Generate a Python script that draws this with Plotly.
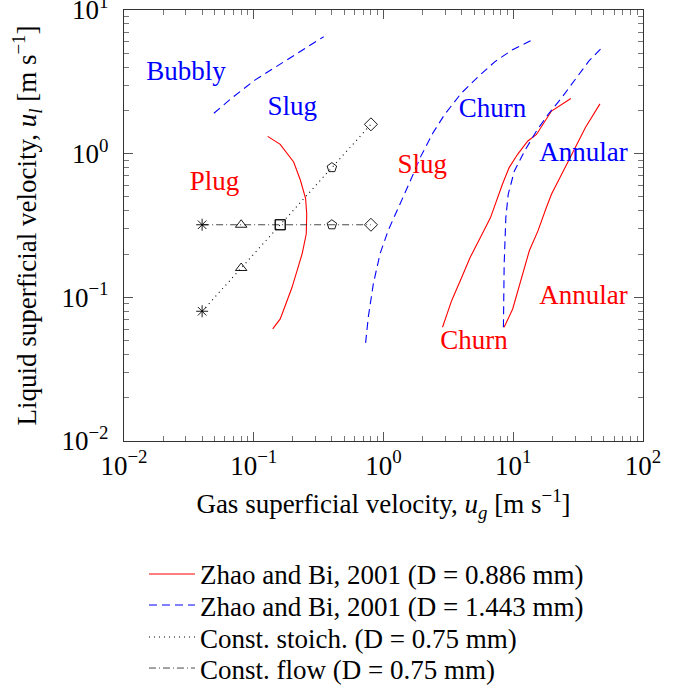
import plotly.graph_objects as go

# ---- data ----
red1_x = [0.128, 0.160, 0.203, 0.229, 0.251, 0.256, 0.254, 0.236, 0.216, 0.197, 0.175, 0.160, 0.140]
red1_y = [1.32, 1.16, 0.875, 0.653, 0.486, 0.382, 0.277, 0.201, 0.154, 0.117, 0.0877, 0.0708, 0.0603]

red2_x = [27.8, 19.7, 15.1, 12.9, 10.8, 9.3, 8.25, 7.77, 6.68, 5.58, 4.66, 4.01, 3.35, 2.85]
red2_y = [2.42, 1.98, 1.36, 1.22, 0.99, 0.80, 0.612, 0.522, 0.359, 0.261, 0.19, 0.138, 0.0948, 0.0619]

red3_x = [46.6, 36.0, 28.3, 23.6, 19.7, 18.0, 15.5, 13.3, 12.2, 11.1, 9.9, 8.5]
red3_y = [2.22, 1.52, 0.99, 0.718, 0.522, 0.422, 0.290, 0.211, 0.162, 0.117, 0.083, 0.0619]

blue1_x = [0.0493, 0.0673, 0.102, 0.156, 0.223, 0.346]
blue1_y = [1.91, 2.43, 3.25, 4.14, 5.13, 6.52]

blue2_x = [0.728, 0.764, 0.836, 0.942, 1.09, 1.35, 1.62, 1.93, 2.39, 2.94, 3.97, 5.36, 7.23, 9.77, 13.6]
blue2_y = [0.0482, 0.0731, 0.125, 0.202, 0.294, 0.45, 0.655, 0.95, 1.38, 1.86, 2.63, 3.43, 4.37, 5.26, 6.11]

blue3_x = [8.40, 8.51, 8.77, 9.15, 10.2, 12.2, 15.1, 18.6, 23.6, 30.0, 38.2, 49.0]
blue3_y = [0.0619, 0.170, 0.360, 0.522, 0.758, 1.04, 1.44, 1.88, 2.45, 3.28, 4.40, 5.55]

stoich_x = [0.04, 0.08, 0.16, 0.4, 0.8]
stoich_y = [0.08, 0.16, 0.32, 0.8, 1.6]

flow_x = [0.04, 0.08, 0.16, 0.4, 0.8]
flow_y = [0.32, 0.32, 0.32, 0.32, 0.32]

point_symbols = ["asterisk-open", "triangle-up-open", "square-open", "pentagon-open", "diamond-open"]

blue_labels = ["Bubbly", "Slug", "Churn", "Annular"]
blue_label_x = [0.030, 0.198, 6.93, 34.8]
blue_label_y = [3.62, 2.07, 2.01, 0.99]

red_labels = ["Plug", "Slug", "Churn", "Annular"]
red_label_x = [0.0499, 1.99, 4.99, 34.8]
red_label_y = [0.621, 0.819, 0.049, 0.1007]

tick_vals_x = [0.01, 0.1, 1, 10, 100]
tick_text_x = ["10<sup>−2</sup>", "10<sup>−1</sup>", "10<sup>0</sup>", "10<sup>1</sup>", "10<sup>2</sup>"]
tick_vals_y = [0.01, 0.1, 1, 10]
tick_text_y = ["10<sup>−2</sup>", "10<sup>−1</sup>", "10<sup>0</sup>", "10<sup>1</sup>"]

legend_names = [
    "Zhao and Bi, 2001 (D = 0.886 mm)",
    "Zhao and Bi, 2001 (D = 1.443 mm)",
    "Const. stoich. (D = 0.75 mm)",
    "Const. flow (D = 0.75 mm)",
]

RED = "#ff0000"
BLUE = "#0000ff"
FONT = "Liberation Serif"
FS = 27

fig = go.Figure()

for i, (xs, ys) in enumerate([(red1_x, red1_y), (red2_x, red2_y), (red3_x, red3_y)]):
    fig.add_trace(go.Scatter(x=xs, y=ys, mode="lines", line=dict(color=RED, width=1.1),
                             name=legend_names[0], legendgroup="red", showlegend=(i == 0),
                             legend="legend"))

for i, (xs, ys) in enumerate([(blue1_x, blue1_y), (blue2_x, blue2_y), (blue3_x, blue3_y)]):
    fig.add_trace(go.Scatter(x=xs, y=ys, mode="lines", line=dict(color=BLUE, width=1.1, dash="8px,5px"),
                             name=legend_names[1], legendgroup="blue", showlegend=(i == 0),
                             legend="legend2"))

fig.add_trace(go.Scatter(x=stoich_x, y=stoich_y, mode="lines",
                         line=dict(color="black", width=1.1, dash="1px,4px"), name=legend_names[2],
                         legend="legend3"))
fig.add_trace(go.Scatter(x=flow_x, y=flow_y, mode="lines",
                         line=dict(color="#333333", width=0.9, dash="7px,3px,1px,3px"), name=legend_names[3],
                         legend="legend4"))

for xs, ys in [(stoich_x, stoich_y), (flow_x, flow_y)]:
    fig.add_trace(go.Scatter(x=xs, y=ys, mode="markers", showlegend=False,
                             marker=dict(symbol=point_symbols, size=10, color="black",
                                         line=dict(color="black", width=0.9))))

fig.add_trace(go.Scatter(x=blue_label_x, y=blue_label_y, mode="text", text=blue_labels,
                         textfont=dict(family=FONT, size=FS, color=BLUE), showlegend=False))
fig.add_trace(go.Scatter(x=red_label_x, y=red_label_y, mode="text", text=red_labels,
                         textfont=dict(family=FONT, size=FS, color=RED), showlegend=False))

axis_common = dict(
    type="log", showgrid=False, zeroline=False, automargin=False,
    showline=True, linecolor="#333333", linewidth=1.2, mirror="ticks",
    ticks="inside", ticklen=9, tickcolor="#555555", tickwidth=1,
    minor=dict(ticks="inside", ticklen=5, tickcolor="#777777", dtick="D1", showgrid=False),
    tickfont=dict(family=FONT, size=FS, color="black"),
    tickmode="array", ticklabeloverflow="allow",
)

fig.update_xaxes(**axis_common, range=[-2, 2], tickvals=tick_vals_x, ticktext=tick_text_x,
                 ticklabelstandoff=0,
                 title=dict(text="Gas superficial velocity, <i>u<sub>g</sub></i> [m s<sup>−1</sup>]",
                            font=dict(family=FONT, size=FS, color="black"), standoff=14))
fig.update_yaxes(**axis_common, range=[-2, 1], tickvals=tick_vals_y, ticktext=tick_text_y,
                 ticklabelstandoff=9,
                 title=dict(text="Liquid superficial velocity, <i>u<sub>l</sub></i> [m s<sup>−1</sup>]",
                            font=dict(family=FONT, size=FS, color="black"), standoff=16))

legend_common = dict(x=0.0385, xanchor="left", yanchor="middle",
                     font=dict(family=FONT, size=FS, color="black"),
                     bgcolor="rgba(0,0,0,0)", itemwidth=46)

fig.update_layout(
    width=687, height=695,
    margin=dict(l=124, r=44, t=10, b=254, autoexpand=False),
    plot_bgcolor="white", paper_bgcolor="white",
    legend=dict(**legend_common, y=-0.3095),
    legend2=dict(**legend_common, y=-0.3815),
    legend3=dict(**legend_common, y=-0.4558),
    legend4=dict(**legend_common, y=-0.5278),
)

fig.write_html("out.html", config={"displayModeBar": False},
               post_script="document.body.style.margin='0';")
